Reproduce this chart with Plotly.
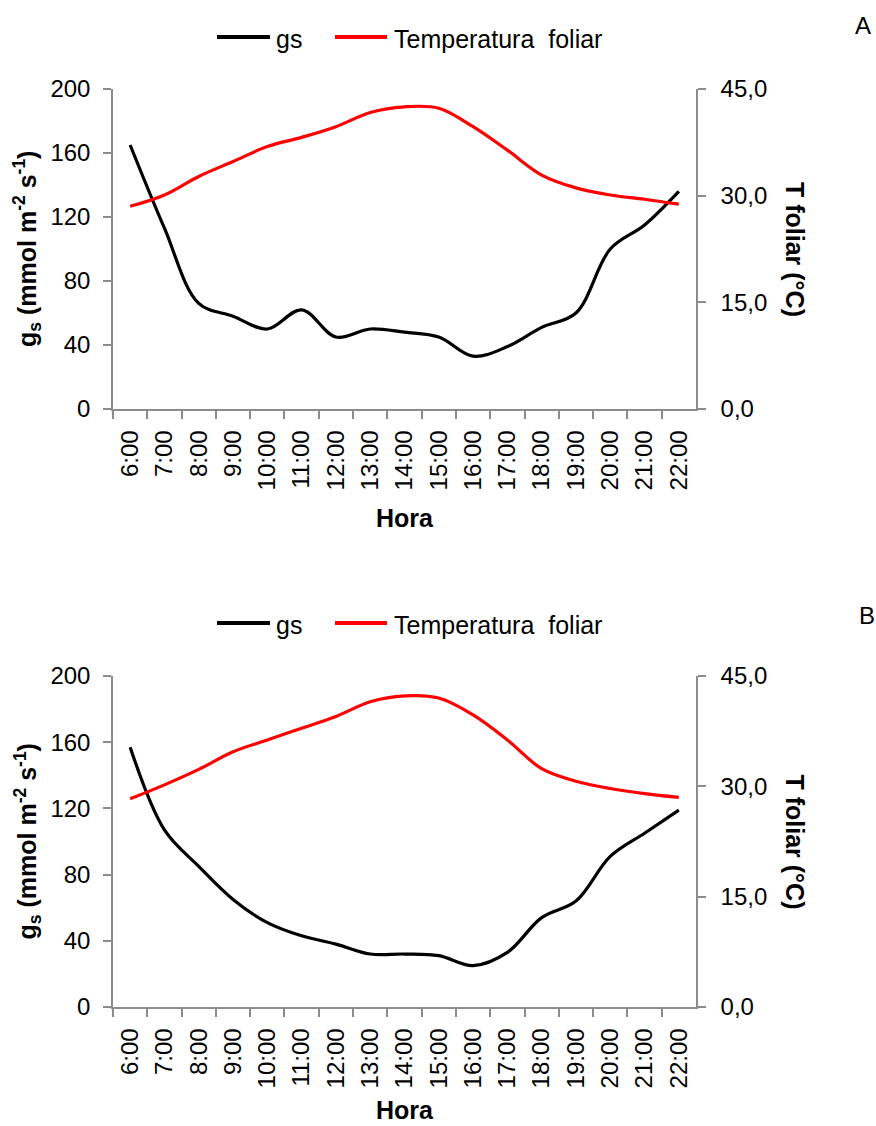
import plotly.graph_objects as go

# Hourly categories
horas = ["6:00", "7:00", "8:00", "9:00", "10:00", "11:00", "12:00", "13:00", "14:00",
         "15:00", "16:00", "17:00", "18:00", "19:00", "20:00", "21:00", "22:00"]

# Panel A
gs_a = [165, 113, 66, 58, 50, 62, 45, 50, 48, 45, 33, 39, 51, 60, 100, 115, 136]
tf_a = [28.5, 30.1, 32.7, 34.8, 36.9, 38.2, 39.7, 41.7, 42.5, 42.3, 39.7, 36.4, 32.9, 31.1, 30.1, 29.5, 28.8]

# Panel B
gs_b = [157, 107, 85, 65, 51, 43, 38, 32, 32, 31, 25, 33, 54, 64, 91, 105, 119]
tf_b = [28.3, 30.2, 32.3, 34.7, 36.3, 37.9, 39.5, 41.5, 42.3, 42.0, 39.7, 36.3, 32.4, 30.7, 29.7, 29.0, 28.5]

gs_ticks = [0, 40, 80, 120, 160, 200]
tf_ticks = [0, 15, 30, 45]
tf_ticktext = ["0,0", "15,0", "30,0", "45,0"]

series_names = ["gs", "Temperatura  foliar"]
series_colors = ["black", "#ff0000"]

W, H = 876, 1126
FONT = "Liberation Sans, Arial, sans-serif"
AXIS_GRAY = "#8c8c8c"


def px_x(v):
    return v / W


def px_y(v):
    return 1 - v / H


x_dom = [px_x(113), px_x(696)]
dom_a = [px_y(409), px_y(89)]
dom_b = [px_y(1007), px_y(676)]

fig = go.Figure()

line_kw = dict(shape="spline", smoothing=1.0, width=3.2)

for xa, yl, yr, gs, tf in [("x", "y", "y2", gs_a, tf_a), ("x2", "y3", "y4", gs_b, tf_b)]:
    fig.add_trace(go.Scatter(x=horas, y=gs, mode="lines", name=series_names[0],
                             line=dict(color=series_colors[0], **line_kw),
                             xaxis=xa, yaxis=yl, showlegend=False))
    fig.add_trace(go.Scatter(x=horas, y=tf, mode="lines", name=series_names[1],
                             line=dict(color=series_colors[1], **line_kw),
                             xaxis=xa, yaxis=yr, showlegend=False))

tick_font = dict(family=FONT, size=24, color="black")

x_common = dict(
    domain=x_dom, type="category", range=[-0.5, 16.5], tickson="boundaries",
    ticks="outside", ticklen=8, tickcolor=AXIS_GRAY, tickwidth=1.5,
    showline=True, linecolor=AXIS_GRAY, linewidth=1.5, showgrid=False,
    tickangle=-90, tickfont=tick_font, zeroline=False, automargin=False,
    ticklabelstandoff=10,
)
yl_common = dict(
    range=[0, 200], tickvals=gs_ticks, ticks="outside", ticklen=8,
    tickcolor=AXIS_GRAY, tickwidth=1.5, showline=True, linecolor=AXIS_GRAY,
    linewidth=1.5, showgrid=False, zeroline=False, tickfont=tick_font,
    ticklabelstandoff=8, automargin=False,
)
yr_common = dict(
    range=[0, 45], tickvals=tf_ticks, ticktext=tf_ticktext, ticks="outside",
    ticklen=8, tickcolor=AXIS_GRAY, tickwidth=1.5, showline=True,
    linecolor=AXIS_GRAY, linewidth=1.5, showgrid=False, zeroline=False,
    tickfont=tick_font, side="right", ticklabelstandoff=10, automargin=False,
)

fig.update_layout(
    width=W, height=H,
    margin=dict(l=0, r=0, t=0, b=0, autoexpand=False),
    paper_bgcolor="white", plot_bgcolor="white",
    font=dict(family=FONT, color="black"),
    showlegend=False,
    xaxis=dict(anchor="y", **x_common),
    yaxis=dict(domain=dom_a, anchor="x", **yl_common),
    yaxis2=dict(domain=dom_a, anchor="x", overlaying="y", **yr_common),
    xaxis2=dict(anchor="y3", **x_common),
    yaxis3=dict(domain=dom_b, anchor="x2", **yl_common),
    yaxis4=dict(domain=dom_b, anchor="x2", overlaying="y3", **yr_common),
)

title_font = dict(family=FONT, size=25, color="black")
gs_title = "<b>g<sub>s</sub> (mmol m<sup>-2</sup> s<sup>-1</sup>)</b>"
tf_title = "<b>T foliar (°C)</b>"

annotations = []
shapes = []
for ymid, hora_y, letter, letter_x, letter_y, leg_y in [
    (249, 518, "A", 853, 26, 37),
    (841.5, 1110, "B", 857, 616, 623),
]:
    annotations.append(dict(text=gs_title, x=px_x(27), y=px_y(ymid), xref="paper",
                            yref="paper", showarrow=False, textangle=-90,
                            xanchor="center", yanchor="middle", font=title_font))
    annotations.append(dict(text=tf_title, x=px_x(795), y=px_y(ymid), xref="paper",
                            yref="paper", showarrow=False, textangle=90,
                            xanchor="center", yanchor="middle", font=title_font))
    annotations.append(dict(text="<b>Hora</b>", x=px_x(405), y=px_y(hora_y),
                            xref="paper", yref="paper", showarrow=False,
                            xanchor="center", yanchor="middle", font=title_font))
    annotations.append(dict(text=letter, x=px_x(letter_x), y=px_y(letter_y),
                            xref="paper", yref="paper", showarrow=False,
                            xanchor="left", yanchor="middle",
                            font=dict(family=FONT, size=24, color="black")))
    # Legend: sample line + label for each series
    for (x0, x1, tx), name, color in zip([(217, 270, 274), (335, 387, 392)],
                                         series_names, series_colors):
        shapes.append(dict(type="line", xref="paper", yref="paper",
                           x0=px_x(x0), x1=px_x(x1), y0=px_y(leg_y), y1=px_y(leg_y),
                           line=dict(color=color, width=4)))
        annotations.append(dict(text=name, x=px_x(tx), y=px_y(leg_y + 2),
                                xref="paper", yref="paper", showarrow=False,
                                xanchor="left", yanchor="middle",
                                font=dict(family=FONT, size=25, color="black")))

fig.update_layout(annotations=annotations, shapes=shapes)

fig.write_html("out.html")
